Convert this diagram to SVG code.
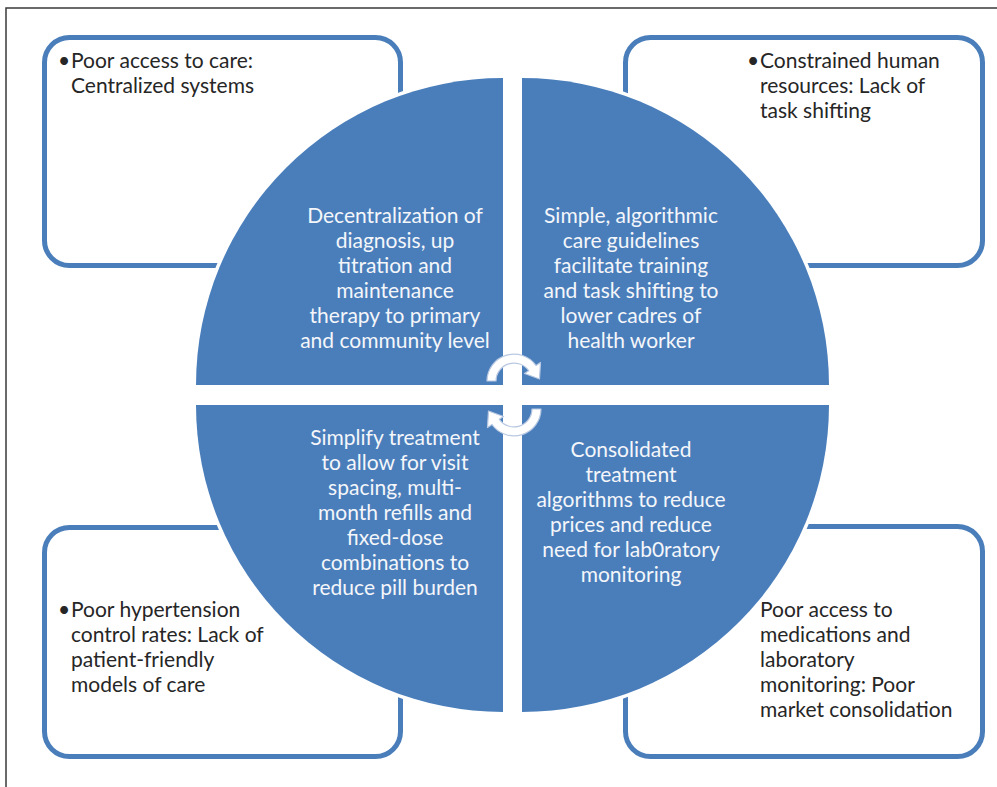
<svg xmlns="http://www.w3.org/2000/svg" width="997" height="787" viewBox="0 0 997 787">
  <style>
    .frame { fill: none; stroke: #3a3a3a; stroke-width: 1.5; }
    .box { fill: #ffffff; stroke: #4a7ebb; stroke-width: 5; }
    .halo { fill: #ffffff; stroke: #ffffff; stroke-width: 7; stroke-linejoin: round; }
    .quad { fill: #4a7ebb; }
    .cycle { fill: #ffffff; stroke: #b9c9e2; stroke-width: 1.2; stroke-linejoin: round; }
    .qt { font-family: Lato, "Open Sans", "Liberation Sans", sans-serif; font-size: 21px; fill: #f4f6fa; text-anchor: middle; }
    .bt { font-family: Lato, "Open Sans", "Liberation Sans", sans-serif; font-size: 21px; fill: #262626; }
  </style>
  <defs>
    <path id="cycleArrow" d="M487,381 A27,27 0 0 1 536,365.5 L540.5,362.5 L539.5,379 L524.5,373.5 L528.7,370.7 A18,18 0 0 0 496,381 Z"/>
  </defs>

  <rect width="997" height="787" fill="#ffffff"/>
  <!-- page frame (top and left edges) -->
  <rect class="frame" x="6" y="8" width="1000" height="800"/>

  <!-- outer issue boxes -->
  <g id="box-access">
    <rect class="box" x="44.5" y="37.5" width="356" height="228" rx="25"/>
    <text class="bt" x="58" y="68">•</text>
    <text class="bt" x="71" y="68">Poor access to care:</text>
    <text class="bt" x="71" y="93">Centralized systems</text>
  </g>
  <g id="box-hr">
    <rect class="box" x="625.5" y="37.5" width="357" height="228" rx="25"/>
    <text class="bt" x="747" y="68">•</text>
    <text class="bt" x="760" y="68">Constrained human</text>
    <text class="bt" x="760" y="93">resources: Lack of</text>
    <text class="bt" x="760" y="118">task shifting</text>
  </g>
  <g id="box-control">
    <rect class="box" x="44.5" y="527.5" width="356" height="229" rx="25"/>
    <text class="bt" x="58" y="617">•</text>
    <text class="bt" x="71" y="617">Poor hypertension</text>
    <text class="bt" x="71" y="642">control rates: Lack of</text>
    <text class="bt" x="71" y="667">patient-friendly</text>
    <text class="bt" x="71" y="692">models of care</text>
  </g>
  <g id="box-market">
    <rect class="box" x="625.5" y="526.5" width="357" height="230" rx="25"/>
    <text class="bt" x="760" y="617">Poor access to</text>
    <text class="bt" x="760" y="642">medications and</text>
    <text class="bt" x="760" y="667">laboratory</text>
    <text class="bt" x="760" y="692">monitoring: Poor</text>
    <text class="bt" x="760" y="717">market consolidation</text>
  </g>

  <!-- central circle split into four quadrants -->
  <g id="q-decentralize">
    <path class="halo" d="M503,385 L196,385 A307,307 0 0 1 503,78 Z"/>
    <path class="quad" d="M503,385 L196,385 A307,307 0 0 1 503,78 Z"/>
    <text class="qt" x="395" y="223">Decentralization of</text>
    <text class="qt" x="395" y="248">diagnosis, up</text>
    <text class="qt" x="395" y="273">titration and</text>
    <text class="qt" x="395" y="298">maintenance</text>
    <text class="qt" x="395" y="323">therapy to primary</text>
    <text class="qt" x="395" y="348">and community level</text>
  </g>
  <g id="q-guidelines">
    <path class="halo" d="M522,385 L522,78 A307,307 0 0 1 829,385 Z"/>
    <path class="quad" d="M522,385 L522,78 A307,307 0 0 1 829,385 Z"/>
    <text class="qt" x="631" y="223">Simple, algorithmic</text>
    <text class="qt" x="631" y="248">care guidelines</text>
    <text class="qt" x="631" y="273">facilitate training</text>
    <text class="qt" x="631" y="298">and task shifting to</text>
    <text class="qt" x="631" y="323">lower cadres of</text>
    <text class="qt" x="631" y="348">health worker</text>
  </g>
  <g id="q-simplify">
    <path class="halo" d="M503,405 L503,712 A307,307 0 0 1 196,405 Z"/>
    <path class="quad" d="M503,405 L503,712 A307,307 0 0 1 196,405 Z"/>
    <text class="qt" x="395" y="445">Simplify treatment</text>
    <text class="qt" x="395" y="470">to allow for visit</text>
    <text class="qt" x="395" y="495">spacing, multi-</text>
    <text class="qt" x="395" y="520">month refills and</text>
    <text class="qt" x="395" y="545">fixed-dose</text>
    <text class="qt" x="395" y="570">combinations to</text>
    <text class="qt" x="395" y="595">reduce pill burden</text>
  </g>
  <g id="q-consolidate">
    <path class="halo" d="M522,405 L829,405 A307,307 0 0 1 522,712 Z"/>
    <path class="quad" d="M522,405 L829,405 A307,307 0 0 1 522,712 Z"/>
    <text class="qt" x="631" y="457">Consolidated</text>
    <text class="qt" x="631" y="482">treatment</text>
    <text class="qt" x="631" y="507">algorithms to reduce</text>
    <text class="qt" x="631" y="532">prices and reduce</text>
    <text class="qt" x="631" y="557">need for lab0ratory</text>
    <text class="qt" x="631" y="582">monitoring</text>
  </g>

  <!-- connectors: cycle arrows at the centre -->
  <g id="connectors">
    <use href="#cycleArrow" class="cycle"/>
    <use href="#cycleArrow" class="cycle" transform="rotate(180 514 395)"/>
  </g>
</svg>
